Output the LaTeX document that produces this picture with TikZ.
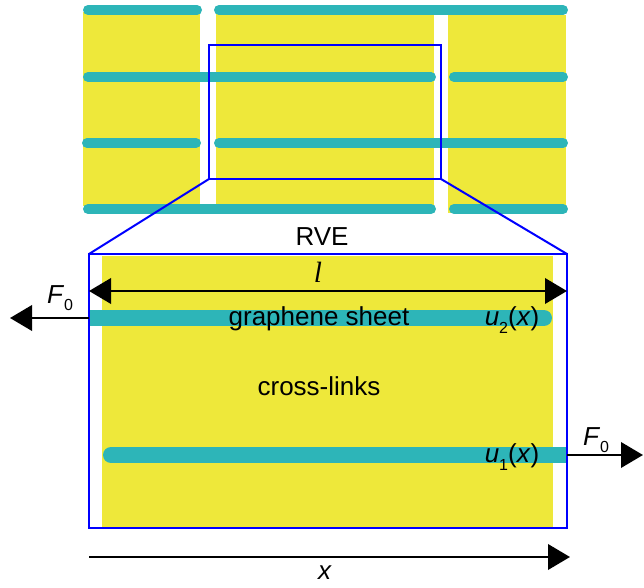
\documentclass[tikz,border=0pt]{standalone}
\usepackage{fontspec}
\setmainfont{Liberation Sans}
\newfontfamily\serifit{Liberation Serif}
\usetikzlibrary{arrows.meta}
\definecolor{crossyellow}{RGB}{238,232,58}
\definecolor{sheetteal}{RGB}{45,181,184}
\newcommand{\lowsub}[1]{\raisebox{-0.55ex}{\fontsize{12}{12}\selectfont #1}}

\begin{document}
\begin{tikzpicture}[x=0.75pt, y=-0.75pt, >={Triangle[length=16.5pt, width=19pt]},
    lbl/.style={font=\fontsize{19.5}{23}\selectfont, inner sep=0pt},
    thinsheet/.style={sheetteal, line width=7.5pt, line cap=round},
    thicksheet/.style={sheetteal, line width=12pt},
    force/.style={line width=2pt},
    rvebox/.style={blue, line width=1.5pt}]
    \useasboundingbox (0,0) rectangle (644,588);
    % stacked sheets (top)
    \fill[crossyellow] (83,12) rectangle (200,206);
    \fill[crossyellow] (216,12) rectangle (434,206);
    \fill[crossyellow] (448,15) rectangle (566,213);
    \draw[thinsheet] (88,10) -- (197,10);
    \draw[thinsheet] (219,10) -- (563,10);
    \draw[thinsheet] (88,77) -- (431,77);
    \draw[thinsheet] (454,77) -- (563,77);
    \draw[thinsheet] (87,143) -- (196,143);
    \draw[thinsheet] (219,143) -- (563,143);
    \draw[thinsheet] (88,209) -- (431,209);
    \draw[thinsheet] (454,209) -- (563,209);
    % RVE windows
    \coordinate (smallNW) at (209,45);
    \coordinate (smallSE) at (441,179);
    \coordinate (smallSW) at (209,179);
    \coordinate (bigNW) at (89,254);
    \coordinate (bigNE) at (567,254);
    \coordinate (bigSE) at (567,528);
    \fill[crossyellow] (102,256) rectangle (553,527);
    \draw[thicksheet] (89,318) -- (544,318);
    \draw[thicksheet, line cap=round] (530,318) -- (544,318);
    \draw[thicksheet] (567,455) -- (111,455);
    \draw[thicksheet, line cap=round] (125,455) -- (111,455);
    \draw[rvebox] (smallNW) rectangle (smallSE);
    \draw[rvebox] (bigNW) rectangle (bigSE);
    \draw[rvebox] (smallSW) -- (bigNW);
    \draw[rvebox] (smallSE) -- (bigNE);
    % arrows
    \coordinate (lenL) at (89,291);
    \coordinate (lenR) at (567,291);
    \draw[force, <->] (lenL) -- (lenR);
    \coordinate (pullL0) at (89,318);
    \coordinate (pullL1) at (10,318);
    \draw[force, ->] (pullL0) -- (pullL1);
    \coordinate (pullR0) at (567,455);
    \coordinate (pullR1) at (643,455);
    \draw[force, ->] (pullR0) -- (pullR1);
    \coordinate (axis0) at (89,557);
    \coordinate (axis1) at (570,557);
    \draw[force, ->] (axis0) -- (axis1);
    % labels
    \node[lbl] (rve) at (322,237) {RVE};
    \node[lbl, font=\fontsize{22}{24}\selectfont\serifit\itshape] (len) at (318,272) {l};
    \node[lbl] (forceL) at (60,298) {\textit{F}\lowsub{0}};
    \node[lbl] (forceR) at (596,440) {\textit{F}\lowsub{0}};
    \node[lbl] (sheet) at (319,319) {graphene sheet};
    \node[lbl] (links) at (319,386) {cross-links};
    \node[lbl] (disp2) at (512,320) {\textit{u}\lowsub{2}(\textit{x})};
    \node[lbl] (disp1) at (512,457) {\textit{u}\lowsub{1}(\textit{x})};
    \node[lbl] (xlab) at (325,573) {\textit{x}};
\end{tikzpicture}
\end{document}
